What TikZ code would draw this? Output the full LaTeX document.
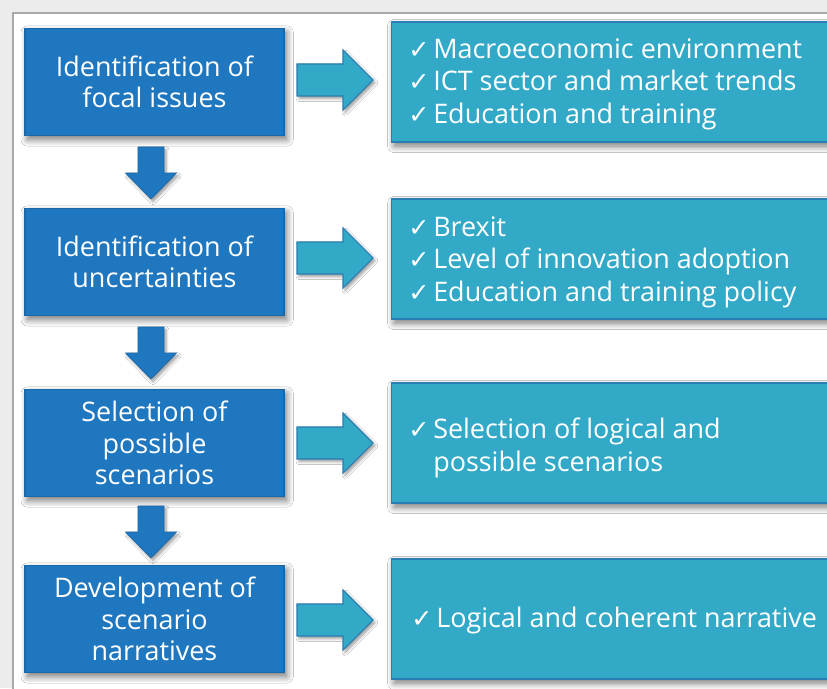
\documentclass[tikz,border=0pt]{standalone}
\usepackage{fontspec}
\setmainfont{Open Sans}
\newfontfamily\symf{DejaVu Sans}
\usetikzlibrary{shadows.blur}
\definecolor{lblue}{HTML}{1F77C0}
\definecolor{lbord}{HTML}{1A68A8}
\definecolor{rteal}{HTML}{33A9C8}
\definecolor{rbord}{HTML}{2A7DB3}
\definecolor{frame}{HTML}{A8A8A8}
\definecolor{bggray}{HTML}{ECECEC}
\newcommand{\ck}{\makebox[18.75pt][l]{\smash{\symf\fontsize{19pt}{19pt}\selectfont ✓}}}
\tikzset{
  softshadow/.style={blur shadow={shadow xshift=2pt, shadow yshift=-3pt, shadow blur radius=5pt, shadow blur steps=10, shadow opacity=55}},
  lbox/.style={draw=lbord, line width=0.8pt, fill=lblue, text=white,
    minimum width=194.25pt, minimum height=80.25pt, inner sep=0pt, align=center,
    font=\fontsize{20.2pt}{23.5pt}\selectfont, softshadow},
  rbox/.style={draw=rbord, line width=1pt, fill=rteal, anchor=west,
    minimum width=345pt, minimum height=90pt, inner sep=0pt, softshadow},
  rtext/.style={anchor=west, text=white, align=left, inner sep=0pt,
    font=\fontsize{20.2pt}{24.4pt}\selectfont},
  rarrowstyle/.style={draw=rbord, line width=0.8pt, fill=rteal,
    blur shadow={shadow xshift=1.5pt, shadow yshift=-2pt, shadow blur steps=6, shadow opacity=40}},
  darrowstyle/.style={draw=lbord, line width=0.5pt, fill=lblue,
    blur shadow={shadow xshift=1.5pt, shadow yshift=-2pt, shadow blur steps=6, shadow opacity=40}},
  rarr/.pic={\path[rarrowstyle] (0,-16) -- (46,-16) -- (46,-30) -- (76,0) -- (46,30) -- (46,16) -- (0,16) -- cycle;},
  darr/.pic={\path[darrowstyle] (-13,0) -- (13,0) -- (13,26) -- (25.5,26) -- (0,52) -- (-25.5,26) -- (-13,26) -- cycle;}
}
\begin{document}
\begin{tikzpicture}[x=0.75pt, y=-0.75pt]
\useasboundingbox (0,0) rectangle (827,688);
\fill[bggray] (0,0) rectangle (827,688);
\filldraw[fill=white, draw=frame, line width=1pt] (13,13) rectangle (840,700);
% left boxes
\node[lbox] (l1) at (154.5,82) {Identification of\\focal issues};
\node[lbox] (l2) at (154.5,262) {Identification of\\uncertainties};
\node[lbox] (l3) at (154.5,443) {Selection of\\possible\\scenarios};
\node[lbox] (l4) at (154.5,619) {Development of\\scenario\\narratives};
% right boxes
\node[rbox] (r1) at (391,82) {};
\node[rbox] (r2) at (391,259) {};
\node[rbox] (r3) at (391,443) {};
\node[rbox] (r4) at (391,619) {};
% right texts
\node[rtext] (t1) at (408,84) {\ck Macroeconomic environment\\\ck ICT sector and market trends\\\ck Education and training};
\node[rtext] (t2) at (408,262) {\ck Brexit\\\ck Level of innovation adoption\\\ck Education and training policy};
\node[rtext] (t3) at (408,448) {\ck Selection of logical and\\\phantom{\ck}possible scenarios};
\node[rtext] (t4) at (411,620) {\ck Logical and coherent narrative};
% right arrows
\pic at (297,80) {rarr};
\pic at (297,258) {rarr};
\pic at (297,443) {rarr};
\pic at (297,620) {rarr};
% down arrows
\pic at (151,147) {darr};
\pic at (151,327) {darr};
\pic at (151,506) {darr};
\end{tikzpicture}
\end{document}
